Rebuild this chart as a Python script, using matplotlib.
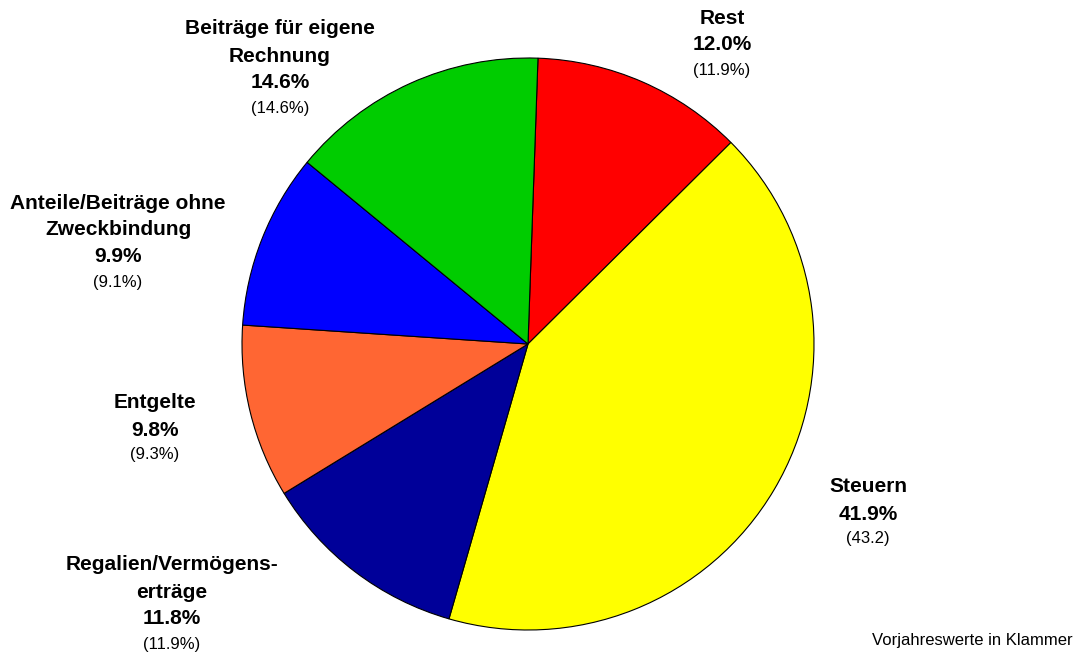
import matplotlib
matplotlib.use("Agg")
import matplotlib.pyplot as plt

plt.rcParams['font.family'] = ['Liberation Sans', 'DejaVu Sans']

labels = ["Rest", "Steuern", "Regalien/Vermögens-\nerträge", "Entgelte",
          "Anteile/Beiträge ohne\nZweckbindung", "Beiträge für eigene\nRechnung"]
shares = [12.0, 41.9, 11.8, 9.8, 9.9, 14.6]
previous = ["(11.9%)", "(43.2)", "(11.9%)", "(9.3%)", "(9.1%)", "(14.6%)"]
colors = ["#FF0000", "#FFFF00", "#000099", "#FF6633", "#0000FF", "#00CC00"]

# label anchor (x centre, y of first line) in pixels from top-left
label_pos = [(722, 18), (868, 487), (172, 565), (155, 403), (118, 203), (280, 29)]

W, H = 1083, 655
fig = plt.figure(figsize=(W / 100, H / 100), dpi=100)
cx, cy, r = 528, 344, 286
ax = fig.add_axes([(cx - r) / W, (H - cy - r) / H, 2 * r / W, 2 * r / H])
ax.pie(shares, colors=colors, startangle=88, counterclock=False, radius=1,
       wedgeprops=dict(edgecolor="black", linewidth=0.8))
ax.set_xlim(-1.0, 1.0)
ax.set_ylim(-1.0, 1.0)
ax.axis("off")

step = 27
for lab, s, p, (x, y) in zip(labels, shares, previous, label_pos):
    lines = lab.split("\n")
    yy = y
    for ln in lines:
        fig.text(x / W, 1 - yy / H, ln, ha="center", va="center",
                 fontsize=15, fontweight="bold")
        yy += step
    fig.text(x / W, 1 - yy / H, f"{s:.1f}%", ha="center", va="center",
             fontsize=15, fontweight="bold")
    yy += 25
    fig.text(x / W, 1 - yy / H, p, ha="center", va="center", fontsize=12)

fig.text(1073 / W, 1 - 640 / H, "Vorjahreswerte in Klammer", ha="right",
         va="center", fontsize=12)

fig.savefig("out.png", dpi=100)
